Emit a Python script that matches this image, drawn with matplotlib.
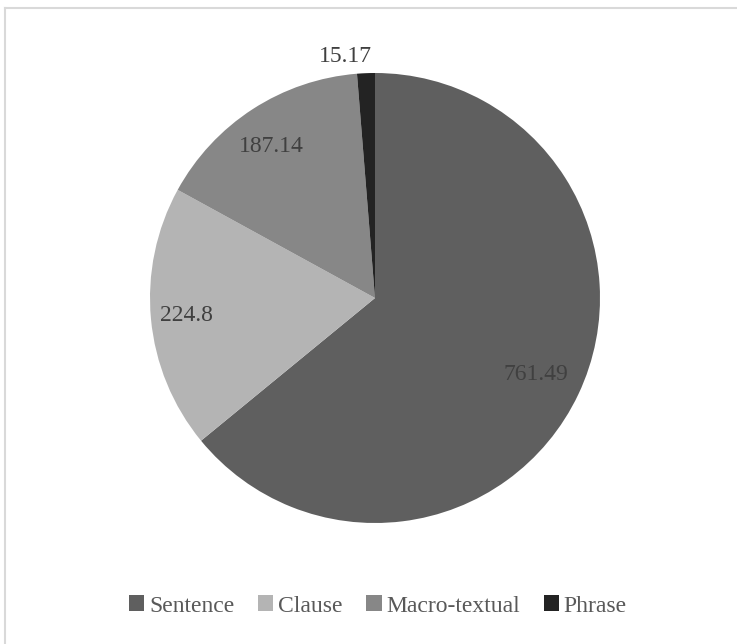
import numpy as np
import matplotlib.pyplot as plt
from matplotlib.patches import Patch
from matplotlib.lines import Line2D

plt.rcParams['font.family'] = ['Liberation Serif', 'DejaVu Serif']

# data
categories = ['Sentence', 'Clause', 'Macro-textual', 'Phrase']
values = [761.49, 224.8, 187.14, 15.17]
labels = ['761.49', '224.8', '187.14', '15.17']
colors = ['#5f5f5f', '#b4b4b4', '#878787', '#232323']
label_dist = [0.79, 0.84, 0.815, 1.08]
label_shift = [0, 0, 1.5, 4.7]  # degrees, nudge like Excel's best fit

fig = plt.figure(figsize=(7.37, 6.44), dpi=100)
ax = fig.add_axes([150 / 737, 121 / 644, 450 / 737, 450 / 644])

wedges, _ = ax.pie(values, colors=colors, startangle=90, counterclock=False,
                   radius=1, wedgeprops=dict(linewidth=0))
ax.set_xlim(-1, 1)
ax.set_ylim(-1, 1)
ax.set_aspect('equal')
ax.axis('off')

# data labels at mid angle
for w, lab, d, s in zip(wedges, labels, label_dist, label_shift):
    ang = np.deg2rad((w.theta1 + w.theta2) / 2 + s)
    ax.text(d * np.cos(ang), d * np.sin(ang), lab, ha='center', va='center',
            fontsize=17, color='#404040', clip_on=False)

# legend
handles = [Patch(facecolor=c, edgecolor='none') for c in colors]
leg = fig.legend(handles, categories, loc='center', bbox_to_anchor=(378 / 737, 1 - 606 / 644),
                 ncol=4, frameon=False, fontsize=17, handlelength=0.65, handleheight=0.65,
                 handletextpad=0.2, columnspacing=1.0, borderpad=0)
for t in leg.get_texts():
    t.set_color('#595959')

# chart area border (top and left visible)
fig.add_artist(Line2D([5 / 737, 1], [1 - 8 / 644, 1 - 8 / 644], color='#d9d9d9', lw=1.5,
                      transform=fig.transFigure))
fig.add_artist(Line2D([5 / 737, 5 / 737], [0, 1 - 8 / 644], color='#d9d9d9', lw=1.5,
                      transform=fig.transFigure))

fig.savefig('out.png', dpi=100, facecolor='white')
